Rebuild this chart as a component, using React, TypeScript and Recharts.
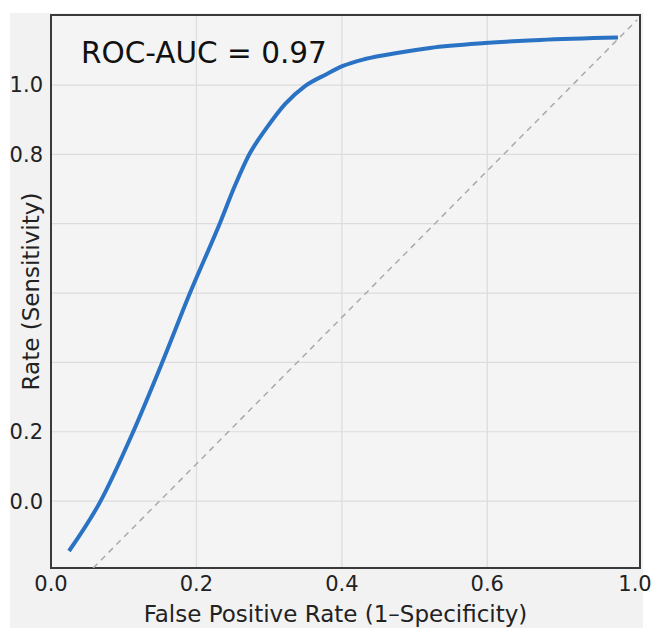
import React from 'react';
import { LineChart, Line, XAxis, YAxis, CartesianGrid, ReferenceArea, Label } from 'recharts';

// ROC curve (axis units as drawn on the grid)
const fprValues = [0.0248, 0.0674, 0.1128, 0.1526, 0.1911, 0.2324, 0.253, 0.2737, 0.2847, 0.2943, 0.3218, 0.3493, 0.3795, 0.4015, 0.4318, 0.4799, 0.5212, 0.5968, 0.6724, 0.7797];
const tprValues = [-0.144, -0.003, 0.199, 0.398, 0.6, 0.802, 0.91, 1.004, 1.041, 1.07, 1.145, 1.197, 1.232, 1.255, 1.275, 1.294, 1.307, 1.321, 1.33, 1.337];

// dashed chance line
const chanceFpr = [0.058, 0.806];
const chanceTpr = [-0.193, 1.388];

const xTicks = [0, 0.2, 0.4, 0.6, 0.81];
const xTickLabels = ['0.0', '0.2', '0.4', '0.6', '1.0'];
const yTicks = [0, 0.2, 0.4, 0.6, 0.8, 1.0, 1.2];
const yTickLabels = ['0.0', '0.2', '', '', '', '0.8', '1.0'];

const xDomain: [number, number] = [0, 0.81];
const yDomain: [number, number] = [-0.193, 1.402];

const aucText = 'ROC-AUC = 0.97';
const xTitle = 'False Positive Rate (1–Specificity)';
const yTitle = 'Rate (Sensitivity)';

const font = '"DejaVu Sans", sans-serif';

const rocData = fprValues.map((fpr, i) => ({ fpr, tpr: tprValues[i] }));
const chanceData = chanceFpr.map((fpr, i) => ({ fpr, tpr: chanceTpr[i] }));

const XTick = ({ x, y, payload, index }: any) => {
    // keep the last label inside the picture
    const shift = index === xTicks.length - 1 ? -5 : 0;
    return (
        <text x={x + shift} y={y} dy="0.71em" textAnchor="middle" fontFamily={font} fontSize={21} fill="#222">
            {xTickLabels[index] ?? payload.value}
        </text>
    );
};

const YTitle = ({ viewBox }: any) => {
    const cx = viewBox.x + 31;
    const cy = viewBox.y + viewBox.height / 2;
    return (
        <text x={cx} y={cy} transform={`rotate(-90 ${cx} ${cy})`} textAnchor="middle" dominantBaseline="central"
            fontFamily={font} fontSize={23} fill="#222">
            {yTitle}
        </text>
    );
};

const XTitle = ({ viewBox }: any) => (
    <text x={viewBox.x + viewBox.width / 2 - 10} y={614} textAnchor="middle" dominantBaseline="central"
        fontFamily={font} fontSize={23} fill="#222">
        {xTitle}
    </text>
);

export default function App() {
    return (
        <div style={{ position: 'absolute', left: 0, top: 0, width: 654, height: 628, background: '#fff', overflow: 'hidden' }}>
            <div style={{ position: 'absolute', left: 10, top: 13, width: 633, height: 615, background: '#f2f2f2' }} />
            <div style={{ position: 'absolute', left: 0, top: 0 }}>
                <LineChart width={654} height={628} margin={{ top: 15, right: 14, bottom: 0, left: 0 }}>
                    <CartesianGrid fill="#f4f4f4" stroke="#dcdcdc" strokeWidth={1.2} />
                    <XAxis
                        type="number"
                        dataKey="fpr"
                        domain={xDomain}
                        ticks={xTicks}
                        allowDataOverflow
                        height={60}
                        tickLine={false}
                        axisLine={false}
                        interval={0}
                        tick={<XTick />}
                    >
                        <Label content={<XTitle />} />
                    </XAxis>
                    <YAxis
                        type="number"
                        dataKey="tpr"
                        domain={yDomain}
                        ticks={yTicks}
                        allowDataOverflow
                        width={51}
                        tickLine={false}
                        axisLine={false}
                        interval={0}
                        tickFormatter={(_v, i) => yTickLabels[i]}
                        tick={{ fontSize: 21, fill: '#222', fontFamily: font }}
                    >
                        <Label content={<YTitle />} />
                    </YAxis>
                    <Line
                        data={chanceData}
                        dataKey="tpr"
                        type="linear"
                        stroke="#aaaaaa"
                        strokeWidth={1.5}
                        strokeDasharray="6 5"
                        dot={false}
                        isAnimationActive={false}
                    />
                    <Line
                        data={rocData}
                        dataKey="tpr"
                        type="monotone"
                        stroke="#2a72c4"
                        strokeWidth={4}
                        dot={false}
                        isAnimationActive={false}
                    />
                    <ReferenceArea x1={xDomain[0]} x2={xDomain[1]} y1={yDomain[0]} y2={yDomain[1]} fill="none" stroke="#3a3a3a" strokeWidth={2} />
                </LineChart>
            </div>
            <div style={{ position: 'absolute', left: 81, top: 35, fontFamily: font, fontSize: 29.5, lineHeight: '36px', color: '#111' }}>
                {aucText}
            </div>
        </div>
    );
}
